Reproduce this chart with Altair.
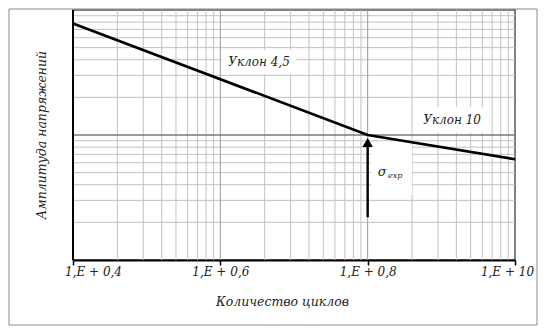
import altair as alt
import pandas as pd
import math

# ---- data ----
cycles = [1e4, 1e8, 1e10]          # number of cycles
amplitude = [78.0, 10.0, 6.4]       # stress amplitude (arbitrary log units)

tick_values = [1e4, 1e6, 1e8, 1e10]
tick_labels = ["1,E + 0,4", "1,E + 0,6", "1,E + 0,8", "1,E + 10"]

x_title = "Количество циклов"
y_title = "Амплитуда напряжений"

slope_text = ["Уклон 4,5", "Уклон 10"]
slope_x = [3.35e6, 1.4e9]
slope_y = [38.4, 13.2]
box_x1 = [1.05e6, 4.4e8, 1.11e8]
box_x2 = [1.07e7, 4.6e9, 4.0e8]
box_y1 = [30.8, 10.4, 3.3]
box_y2 = [47.9, 16.7, 8.3]

sigma_text = ["σ"]
sigma_x = [1.57e8]
sigma_y = [5.06]
sub_text = ["exp"]
sub_x = [1.89e8]
sub_y = [4.7]

arrow_x = [1e8]
arrow_y_start = [2.2]
arrow_y_end = [9.0]
arrow_head_y = [8.7]

# grid (Excel-style log grid: base 100 on x, base 10 on y)
x_minor = [10 ** (4 + 2 * j) * k ** 2 for j in range(3) for k in range(2, 10)]
x_major = [1e6, 1e8]
y_minor = [k * 10 ** m for m in range(2) for k in range(2, 10)]
y_major = [10.0]
x_left = [1e4]

FONT = "DejaVu Serif"

xscale = alt.Scale(type="log", domain=[1e4, 1e10], nice=False)
yscale = alt.Scale(type="log", domain=[1, 100], nice=False)

label_expr = " : ".join(
    f"round(log(datum.value)/LN10) == {round(math.log10(v))} ? '{t}'"
    for v, t in zip(tick_values, tick_labels)
) + " : ''"

xaxis = alt.Axis(
    values=tick_values, labelExpr=label_expr, grid=False,
    domainColor="black", domainWidth=2, tickColor="black", tickWidth=1.5, tickSize=5,
    labelFont=FONT, labelFontStyle="italic", labelFontSize=12, labelColor="#222",
    labelPadding=1, labelFlush=False,
    labelOffset={"condition": [{"test": "datum.value <= 10000", "value": 20},
                               {"test": "datum.value >= 1e10", "value": -8}],
                 "value": 0},
    title=x_title, titleFont=FONT, titleFontStyle="italic", titleFontSize=12.5,
    titleFontWeight="normal", titleColor="#222",
    titleX=209, titleY=35, titleAlign="center", titleBaseline="top",
)


def X(f):
    return alt.X(f, type="quantitative", scale=xscale, axis=xaxis)


def Y(f):
    return alt.Y(f, type="quantitative", scale=yscale, axis=None)


curve = pd.DataFrame({"x": cycles, "y": amplitude})
gx_minor = pd.DataFrame({"x": x_minor})
gx_major = pd.DataFrame({"x": x_major})
gx_left = pd.DataFrame({"x": x_left})
gy_minor = pd.DataFrame({"y": y_minor})
gy_major = pd.DataFrame({"y": y_major})
boxes = pd.DataFrame({"x": box_x1, "x2": box_x2, "y": box_y1, "y2": box_y2})
slopes = pd.DataFrame({"x": slope_x, "y": slope_y, "t": slope_text})
sigma = pd.DataFrame({"x": sigma_x, "y": sigma_y, "t": sigma_text})
sub = pd.DataFrame({"x": sub_x, "y": sub_y, "t": sub_text})
arrow = pd.DataFrame({"x": arrow_x, "y": arrow_y_start, "y2": arrow_y_end})
head = pd.DataFrame({"x": arrow_x, "y": arrow_head_y})
one = pd.DataFrame({"t": [y_title]})

frame = alt.Chart(one).mark_rect(fill="white", fillOpacity=0, stroke="#8a8a8a", strokeWidth=1).encode(
    x=alt.value(-64), x2=alt.value(464), y=alt.value(-1), y2=alt.value(315)
)

grid_c = "#c2c2c2"
l_xminor = alt.Chart(gx_minor).mark_rule(color=grid_c, strokeWidth=1).encode(x=X("x"))
l_xmajor = alt.Chart(gx_major).mark_rule(color="#9a9a9a", strokeWidth=1).encode(x=X("x"))
l_yminor = alt.Chart(gy_minor).mark_rule(color=grid_c, strokeWidth=1).encode(y=Y("y"))
l_ymajor = alt.Chart(gy_major).mark_rule(color="#7a7a7a", strokeWidth=1.6).encode(y=Y("y"))
l_left = alt.Chart(gx_left).mark_rule(color="black", strokeWidth=2).encode(x=X("x"))

l_ytitle = alt.Chart(one).mark_text(
    font=FONT, fontStyle="italic", fontSize=12.5, color="#222", angle=270,
    align="center", baseline="middle"
).encode(x=alt.value(-31), y=alt.value(125), text="t:N")

l_boxes = alt.Chart(boxes).mark_rect(fill="white").encode(
    x=X("x"), x2="x2", y=Y("y"), y2="y2"
)

l_line = alt.Chart(curve).mark_line(color="black", strokeWidth=2.6).encode(x=X("x"), y=Y("y"))

l_arrow = alt.Chart(arrow).mark_rule(color="black", strokeWidth=2.4).encode(
    x=X("x"), y=Y("y"), y2="y2"
)
l_head = alt.Chart(head).mark_point(shape="triangle-up", filled=True, color="black", size=110, opacity=1).encode(
    x=X("x"), y=Y("y")
)

l_slopes = alt.Chart(slopes).mark_text(
    font=FONT, fontStyle="italic", fontSize=12, color="#222", align="center", baseline="middle"
).encode(x=X("x"), y=Y("y"), text="t:N")
l_sigma = alt.Chart(sigma).mark_text(
    font=FONT, fontStyle="italic", fontSize=13, color="#222", align="center", baseline="middle"
).encode(x=X("x"), y=Y("y"), text="t:N")
l_sub = alt.Chart(sub).mark_text(
    font=FONT, fontStyle="italic", fontSize=8, color="#222", align="left", baseline="middle"
).encode(x=X("x"), y=Y("y"), text="t:N")

chart = alt.layer(
    frame, l_xminor, l_yminor, l_xmajor, l_ymajor, l_boxes, l_left, l_ytitle,
    l_line, l_arrow, l_head, l_slopes, l_sigma, l_sub
).properties(
    width=442, height=250,
    background="white",
    autosize=alt.AutoSizeParams(type="none"),
    padding={"left": 65, "top": 2, "right": 23, "bottom": 66},
).configure_view(
    stroke="#555", strokeWidth=1.5
)

chart.save("out.html", embed_options={"renderer": "svg", "actions": False})
